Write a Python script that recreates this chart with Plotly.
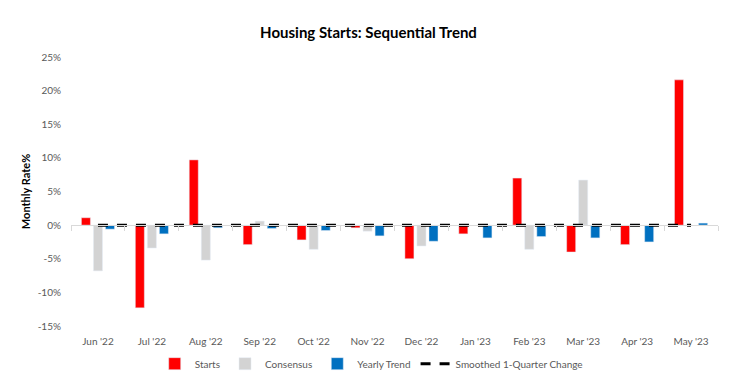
import plotly.graph_objects as go

months = ["Jun '22", "Jul '22", "Aug '22", "Sep '22", "Oct '22", "Nov '22",
          "Dec '22", "Jan '23", "Feb '23", "Mar '23", "Apr '23", "May '23"]
starts = [1.1, -12.3, 9.7, -2.9, -2.2, -0.4, -5.0, -1.3, 7.0, -4.0, -2.9, 21.6]
consensus = [-6.8, -3.4, -5.2, 0.6, -3.6, -0.9, -3.1, None, -3.6, 6.7, None, None]
yearly_trend = [-0.6, -1.3, -0.4, -0.5, -0.8, -1.6, -2.4, -1.9, -1.7, -1.9, -2.5, 0.3]
smoothed = [0, 0, 0, 0, 0, 0, 0, 0, 0, 0, 0, 0]

y_tickvals = [25, 20, 15, 10, 5, 0, -5, -10, -15]
y_ticktext = ["25%", "20%", "15%", "10%", "5%", "0%", "-5%", "-10%", "-15%"]
y_min, y_max = -15, 25

FONT = "Lato, Carlito, Calibri, sans-serif"

fig = go.Figure()
fig.add_trace(go.Bar(x=months, y=starts, name="Starts", marker_color="#FF0000"))
fig.add_trace(go.Bar(x=months, y=consensus, name="Consensus", marker_color="#D3D3D3"))
fig.add_trace(go.Bar(x=months, y=yearly_trend, name="Yearly Trend", marker_color="#0070C0"))
fig.add_trace(go.Scatter(x=months, y=smoothed, name="Smoothed 1-Quarter Change",
                         xaxis="x2", mode="lines",
                         line=dict(color="black", width=3, dash="10px,9px")))

n = len(months)

fig.update_layout(
    width=737, height=387,
    margin=dict(l=71, r=19, t=57, b=61, autoexpand=False),
    paper_bgcolor="white", plot_bgcolor="white",
    barmode="group", bargap=0.33, bargroupgap=0.25,
    font=dict(family=FONT, size=10, color="#595959"),
    title=dict(text="<b>Housing Starts: Sequential Trend</b>", x=0.5, xanchor="center",
               y=0.915, yanchor="middle", font=dict(family=FONT, size=15, color="black")),
    showlegend=True,
    legend=dict(orientation="h", x=0.464, xanchor="center", y=-0.14, yanchor="middle",
                font=dict(family=FONT, size=10, color="#595959"), itemwidth=30,
                traceorder="normal"),
    xaxis=dict(type="category", categoryarray=months, range=[-0.5, n - 0.5],
               showline=False, ticks="", ticklabelstandoff=8, automargin=False,
               showgrid=False, zeroline=False, tickfont=dict(size=10, color="#595959")),
    xaxis2=dict(type="category", categoryarray=months, overlaying="x", anchor="free",
                position=(0 - y_min) / (y_max - y_min), automargin=False,
                range=[-0.5, n - 0.5], showline=True, linecolor="#D9D9D9", linewidth=1,
                tickson="boundaries", ticks="outside", ticklen=5,
                tickcolor="#D9D9D9", showticklabels=False, showgrid=False, zeroline=False),
    yaxis=dict(range=[y_min, y_max], tickmode="array", tickvals=y_tickvals,
               ticktext=y_ticktext, showgrid=False, zeroline=False, showline=False,
               ticks="", ticklabelstandoff=9, tickfont=dict(size=10, color="#595959"),
               automargin=False,
               title=dict(text="<b>Monthly Rate%</b>", standoff=4,
                          font=dict(family=FONT, size=11, color="black"))),
)

fig.write_html("out.html", config={"displayModeBar": False},
               post_script="document.body.style.margin='0';")
